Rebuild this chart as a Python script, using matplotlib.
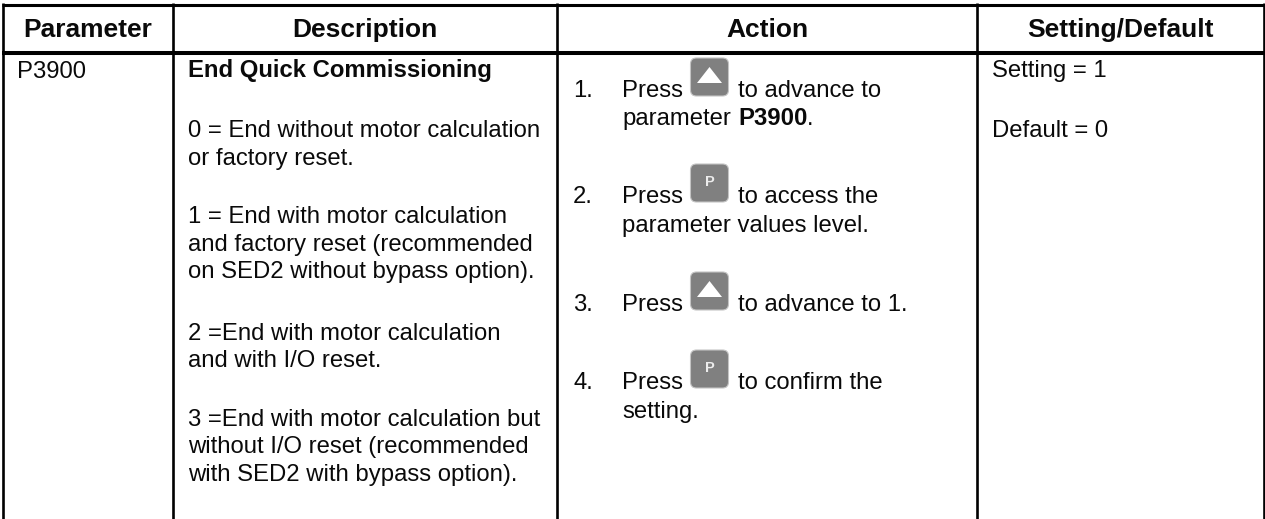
import matplotlib
matplotlib.use('Agg')
import matplotlib.pyplot as plt
from matplotlib.patches import FancyBboxPatch, Polygon

plt.rcParams['font.family'] = ['Liberation Sans', 'DejaVu Sans']

WIDTH = 1265
HEIGHT = 519
BODY = 17.2

headers = ['Parameter', 'Description', 'Action', 'Setting/Default']
header_centers = [87.5, 365, 767, 1120.5]
col_lines = [3, 173, 557, 977, 1263.5]

param = 'P3900'
desc_title = 'End Quick Commissioning'
desc_lines = [
    (137, '0 = End without motor calculation'),
    (165, 'or factory reset.'),
    (223, '1 = End with motor calculation'),
    (251, 'and factory reset (recommended'),
    (278, 'on SED2 without bypass option).'),
    (340, '2 =End with motor calculation'),
    (367, 'and with I/O reset.'),
    (426, '3 =End with motor calculation but'),
    (453, 'without I/O reset (recommended'),
    (481, 'with SED2 with bypass option).'),
]
settings = [(77, 'Setting = 1'), (137, 'Default = 0')]

# step number, baseline y, text after the icon, icon kind
steps = [
    ('1.', 97, 'to advance to', 'up'),
    ('2.', 203, 'to access the', 'p'),
    ('3.', 311, 'to advance to 1.', 'up'),
    ('4.', 389, 'to confirm the', 'p'),
]
step_second = [
    (125, 'parameter', 'P3900', '.'),
    (232, 'parameter values level.', '', ''),
    (418, 'setting.', '', ''),
]


def put(ax, x, y, s, bold=False, size=BODY, ha='left'):
    return ax.text(x, y, s, fontsize=size, ha=ha, va='baseline', color='#0a0a0a',
                   fontweight='bold' if bold else 'normal')


def draw_key(ax, cx, cy, kind):
    ax.add_patch(FancyBboxPatch((cx - 19, cy - 19), 38, 38,
                                boxstyle='round,pad=0,rounding_size=6',
                                fc='#808080', ec='#c4c4c4', lw=0.8, zorder=3))
    if kind == 'up':
        ax.add_patch(Polygon([(cx - 12.5, cy + 6), (cx + 12.5, cy + 6), (cx, cy - 10)],
                             fc='white', ec='none', zorder=4))
    else:
        ax.text(cx, cy - 1, 'P', fontsize=10.5, fontweight='bold', color='#ececec',
                ha='center', va='center', zorder=4)


fig = plt.figure(figsize=(WIDTH / 100, HEIGHT / 100), dpi=100)
ax = fig.add_axes([0, 0, 1, 1])
ax.set_xlim(0, WIDTH)
ax.set_ylim(HEIGHT, 0)
ax.axis('off')

# table rules
ax.plot([2, WIDTH], [4.5, 4.5], color='black', lw=2.2, solid_capstyle='butt')
ax.plot([2, WIDTH], [53, 53], color='black', lw=2.9, solid_capstyle='butt')
for x in col_lines:
    ax.plot([x, x], [3, HEIGHT], color='black', lw=1.9, solid_capstyle='butt')

for cx, label in zip(header_centers, headers):
    put(ax, cx, 37, label, bold=True, size=19, ha='center')

put(ax, 17, 78, param)
put(ax, 188, 77, desc_title, bold=True)
for y, s in desc_lines:
    put(ax, 188, y, s)
for y, s in settings:
    put(ax, 992, y, s)

for num, y, s, kind in steps:
    put(ax, 573, y, num)
    put(ax, 622, y, 'Press')
    draw_key(ax, 709.5, y - 20, kind)
    put(ax, 738, y, s)

fig.canvas.draw()
rend = fig.canvas.get_renderer()
for y, a, b, c in step_second:
    t = put(ax, 622, y, a)
    if b:
        # bold part follows the plain part, so measure it first
        x = ax.transData.inverted().transform(t.get_window_extent(rend))[1][0]
        t2 = put(ax, x + 7, y, b, bold=True)
        x2 = ax.transData.inverted().transform(t2.get_window_extent(rend))[1][0]
        put(ax, x2, y, c)

fig.savefig('out.png', dpi=100)
